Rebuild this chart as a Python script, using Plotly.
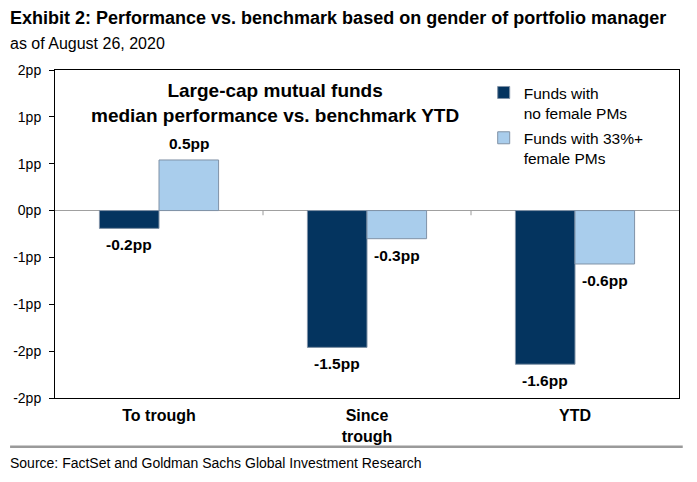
import plotly.graph_objects as go

categories = ["To trough", "Since<br>trough", "YTD"]
series_names = ["Funds with<br>no female PMs", "Funds with 33%+<br>female PMs"]
no_female = [-0.19, -1.46, -1.64]
female_33 = [0.54, -0.30, -0.57]
no_female_labels = ["-0.2pp", "-1.5pp", "-1.6pp"]
female_33_labels = ["0.5pp", "-0.3pp", "-0.6pp"]
tick_vals = [1.5, 1.0, 0.5, 0.0, -0.5, -1.0, -1.5, -2.0]
tick_text = ["2pp", "1pp", "1pp", "0pp", "-1pp", "-1pp", "-2pp", "-2pp"]

FONT = "Liberation Sans, Arial, sans-serif"
DARK = "#04345f"
LIGHT = "#a9cdec"
EDGE = "#8092a6"

# page has an 8px body margin; figure sized so it fills the window
W, H = 689, 474

fig = go.Figure()
fig.add_trace(go.Bar(x=categories, y=no_female, name=series_names[0],
                     marker=dict(color=DARK, line=dict(color=EDGE, width=1)),
                     legendgroup="a"))
fig.add_trace(go.Bar(x=categories, y=female_33, name=series_names[1],
                     marker=dict(color=LIGHT, line=dict(color=EDGE, width=1)),
                     legendgroup="b"))

half = 29.8
anns = []
for vals, labs, shift in [(no_female, no_female_labels, -half), (female_33, female_33_labels, half)]:
    for c, v, t in zip(categories, vals, labs):
        anns.append(dict(x=c, y=v, xref="x", yref="y", text="<b>%s</b>" % t, showarrow=False,
                         xshift=shift, yanchor="bottom" if v >= 0 else "top",
                         yshift=6 if v >= 0 else -6,
                         font=dict(family=FONT, size=15.5, color="black")))

anns.append(dict(xref="paper", yref="paper", x=0.3526, y=0.898, xanchor="center", yanchor="middle",
                 text="<b>Large-cap mutual funds<br>median performance vs. benchmark YTD</b>",
                 showarrow=False, font=dict(family=FONT, size=19, color="black")))
anns.append(dict(xref="paper", yref="paper", x=-0.075, y=1.082, xanchor="left", yanchor="middle",
                 text="as of August 26, 2020", showarrow=False,
                 font=dict(family=FONT, size=16, color="black")))
anns.append(dict(xref="paper", yref="paper", x=-0.075, y=-0.198, xanchor="left", yanchor="middle",
                 text="Source: FactSet and Goldman Sachs Global Investment Research", showarrow=False,
                 font=dict(family=FONT, size=14, color="black")))

shapes = [dict(type="line", xref="paper", yref="paper", x0=-0.072, x1=1.006, y0=-0.149, y1=-0.149,
               line=dict(color="#9a9a9a", width=2.5))]
for xb in [0.5, 1.5]:
    shapes.append(dict(type="line", xref="x", yref="y", x0=xb, x1=xb, y0=0, y1=-0.05,
                       line=dict(color="#9a9a9a", width=1)))

fig.update_layout(
    width=W, height=H,
    margin=dict(l=47, r=18, t=62, b=84),
    paper_bgcolor="white", plot_bgcolor="white",
    barmode="group", bargap=0.427, bargroupgap=0,
    font=dict(family=FONT, color="black"),
    title=dict(text="<b>Exhibit 2: Performance vs. benchmark based on gender of portfolio manager</b>",
               xref="container", yref="container", x=2/W, xanchor="left", y=1-9.5/H, yanchor="middle",
               font=dict(family=FONT, size=18, color="black")),
    legend=dict(x=0.687, y=0.982, xanchor="left", yanchor="top", valign="top",
                font=dict(family=FONT, size=15.5, color="black"), tracegroupgap=2,
                bgcolor="rgba(0,0,0,0)"),
    xaxis=dict(showline=True, mirror=True, linecolor="black", linewidth=1, ticks="",
               showgrid=False, tickfont=dict(family=FONT, size=16, color="black"),
               tickprefix="<b>", ticksuffix="</b>", ticklabelstandoff=3, automargin=False),
    yaxis=dict(range=[-2, 1.5], tickvals=tick_vals, ticktext=tick_text, showline=True, mirror=True,
               linecolor="black", linewidth=1, ticks="outside", ticklen=5, tickcolor="black",
               showgrid=False, zeroline=True, zerolinecolor="#a0a0a0", zerolinewidth=1,
               ticklabelstandoff=5, automargin=False,
               tickfont=dict(family=FONT, size=14, color="black")),
    annotations=anns, shapes=shapes, showlegend=True,
)

fig.write_html("out.html")
